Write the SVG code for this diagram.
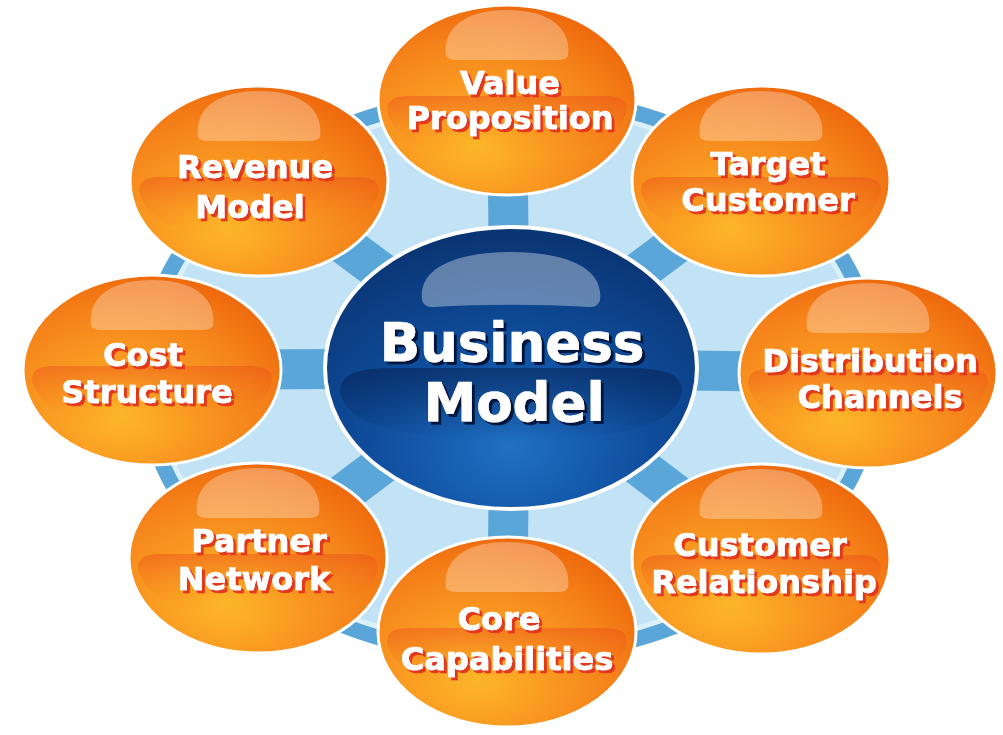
<svg xmlns="http://www.w3.org/2000/svg" xmlns:xlink="http://www.w3.org/1999/xlink" width="1003" height="735" viewBox="0 0 1003 735">
  <defs>
    <radialGradient id="gOrange" cx="0.38" cy="0.72" r="0.75">
      <stop offset="0" stop-color="#fdbb2a"/>
      <stop offset="0.35" stop-color="#fa9d22"/>
      <stop offset="0.72" stop-color="#f5821a"/>
      <stop offset="1" stop-color="#ee680c"/>
    </radialGradient>
    <radialGradient id="gBlue" cx="0.5" cy="0.78" r="0.75">
      <stop offset="0" stop-color="#2070c4"/>
      <stop offset="0.5" stop-color="#0f4d9c"/>
      <stop offset="1" stop-color="#0a3574"/>
    </radialGradient>
    <linearGradient id="gBand" x1="0" y1="0" x2="0" y2="1">
      <stop offset="0" stop-color="#e8421a" stop-opacity="0.4"/>
      <stop offset="0.6" stop-color="#f06a18" stop-opacity="0.12"/>
      <stop offset="1" stop-color="#f58a1a" stop-opacity="0"/>
    </linearGradient>
    <linearGradient id="gBandB" x1="0" y1="0" x2="0" y2="1">
      <stop offset="0" stop-color="#02143c" stop-opacity="0.45"/>
      <stop offset="1" stop-color="#02143c" stop-opacity="0"/>
    </linearGradient>
    <filter id="redSh" x="-10%" y="-20%" width="130%" height="150%">
      <feOffset in="SourceAlpha" dx="3" dy="3" result="o"/>
      <feFlood flood-color="#e2391a"/>
      <feComposite in2="o" operator="in" result="s"/>
      <feMerge><feMergeNode in="s"/><feMergeNode in="SourceGraphic"/></feMerge>
    </filter>
    <filter id="navySh" x="-10%" y="-20%" width="130%" height="150%">
      <feOffset in="SourceAlpha" dx="3" dy="3" result="o"/>
      <feFlood flood-color="#06183f"/>
      <feComposite in2="o" operator="in" result="s"/>
      <feMerge><feMergeNode in="s"/><feMergeNode in="SourceGraphic"/></feMerge>
    </filter>
    <path id="dome" d="M -61,-44 C -65,-76 -36,-90 0,-90 C 36,-90 65,-76 61,-44 Q 59,-40 50,-40 L -50,-40 Q -59,-40 -61,-44 Z" fill="#ffffff" fill-opacity="0.3"/>
    <path id="band" d="M -120,10 C -120,-2 -110,-4 -95,-4 L 95,-4 C 110,-4 120,-2 120,10 C 115,40 70,62 0,62 C -70,62 -115,40 -120,10 Z" fill="url(#gBand)"/>
    <ellipse id="orb" cx="0" cy="0" rx="129" ry="95" fill="url(#gOrange)" stroke="#ffffff" stroke-width="3"/>
  </defs>
  <style>
    .lbl { font-family: "DejaVu Sans", "Liberation Sans", sans-serif; font-weight: bold; font-size: 32px; text-anchor: middle; fill: #ffffff; stroke: #ffffff; stroke-width: 0.7; filter: url(#redSh); }
    .big { font-size: 53px; filter: url(#navySh); }
    .spoke { stroke: #5aa6d8; stroke-width: 40; }
  </style>
  <rect width="1003" height="735" fill="#ffffff"/>

  <g id="connectors">
    <ellipse cx="510" cy="376" rx="366" ry="280" fill="#c2e3f5" stroke="#5aa6d8" stroke-width="16"/>
    <ellipse cx="510" cy="376" rx="356" ry="270" fill="none" stroke="#daf0fb" stroke-width="5"/>
    <line class="spoke" x1="510" y1="368" x2="507" y2="100"/>
    <line class="spoke" x1="510" y1="368" x2="761" y2="181"/>
    <line class="spoke" x1="510" y1="368" x2="868" y2="373"/>
    <line class="spoke" x1="510" y1="368" x2="761" y2="559"/>
    <line class="spoke" x1="510" y1="368" x2="507" y2="632"/>
    <line class="spoke" x1="510" y1="368" x2="258" y2="558"/>
    <line class="spoke" x1="510" y1="368" x2="152" y2="370"/>
    <line class="spoke" x1="510" y1="368" x2="259" y2="181"/>
  </g>

  <g id="center">
    <ellipse cx="511" cy="368" rx="186" ry="141" fill="url(#gBlue)" stroke="#ffffff" stroke-width="4"/>
    <path d="M 422,300 C 418,266 460,252 511,252 C 562,252 604,266 600,300 Q 598,308 588,307 C 540,304 482,304 434,307 Q 424,308 422,300 Z" fill="#b8c8dc" fill-opacity="0.5"/>
    <path d="M 340,392 C 340,372 360,368 400,368 L 622,368 C 662,368 682,372 682,392 C 676,420 640,440 511,440 C 382,440 346,420 340,392 Z" fill="url(#gBandB)"/>
    <text class="lbl big" x="512" y="361">Business</text>
    <text class="lbl big" x="514" y="421">Model</text>
  </g>

  <g id="value-proposition">
    <use xlink:href="#orb" x="507" y="100"/>
    <use xlink:href="#dome" x="507" y="100"/>
    <use xlink:href="#band" x="507" y="100"/>
    <text class="lbl" x="510" y="94">Value</text>
    <text class="lbl" x="510" y="129">Proposition</text>
  </g>

  <g id="target-customer">
    <use xlink:href="#orb" x="761" y="181"/>
    <use xlink:href="#dome" x="761" y="181"/>
    <use xlink:href="#band" x="761" y="181"/>
    <text class="lbl" x="768" y="175">Target</text>
    <text class="lbl" x="768" y="211">Customer</text>
  </g>

  <g id="distribution-channels">
    <use xlink:href="#orb" x="868" y="373"/>
    <use xlink:href="#dome" x="868" y="373"/>
    <use xlink:href="#band" x="868" y="373"/>
    <text class="lbl" x="870" y="372">Distribution</text>
    <text class="lbl" x="880" y="408">Channels</text>
  </g>

  <g id="customer-relationship">
    <use xlink:href="#orb" x="761" y="559"/>
    <use xlink:href="#dome" x="761" y="559"/>
    <use xlink:href="#band" x="761" y="559"/>
    <text class="lbl" x="760" y="556">Customer</text>
    <text class="lbl" x="764" y="593">Relationship</text>
  </g>

  <g id="core-capabilities">
    <use xlink:href="#orb" x="507" y="632"/>
    <use xlink:href="#dome" x="507" y="632"/>
    <use xlink:href="#band" x="507" y="632"/>
    <text class="lbl" x="499" y="630">Core</text>
    <text class="lbl" x="507" y="670">Capabilities</text>
  </g>

  <g id="partner-network">
    <use xlink:href="#orb" x="258" y="558"/>
    <use xlink:href="#dome" x="258" y="558"/>
    <use xlink:href="#band" x="258" y="558"/>
    <text class="lbl" x="259" y="552">Partner</text>
    <text class="lbl" x="254" y="590">Network</text>
  </g>

  <g id="cost-structure">
    <use xlink:href="#orb" x="152" y="370"/>
    <use xlink:href="#dome" x="152" y="370"/>
    <use xlink:href="#band" x="152" y="370"/>
    <text class="lbl" x="143" y="366">Cost</text>
    <text class="lbl" x="147" y="403">Structure</text>
  </g>

  <g id="revenue-model">
    <use xlink:href="#orb" x="259" y="181"/>
    <use xlink:href="#dome" x="259" y="181"/>
    <use xlink:href="#band" x="259" y="181"/>
    <text class="lbl" x="255" y="178">Revenue</text>
    <text class="lbl" x="250" y="218">Model</text>
  </g>
</svg>
